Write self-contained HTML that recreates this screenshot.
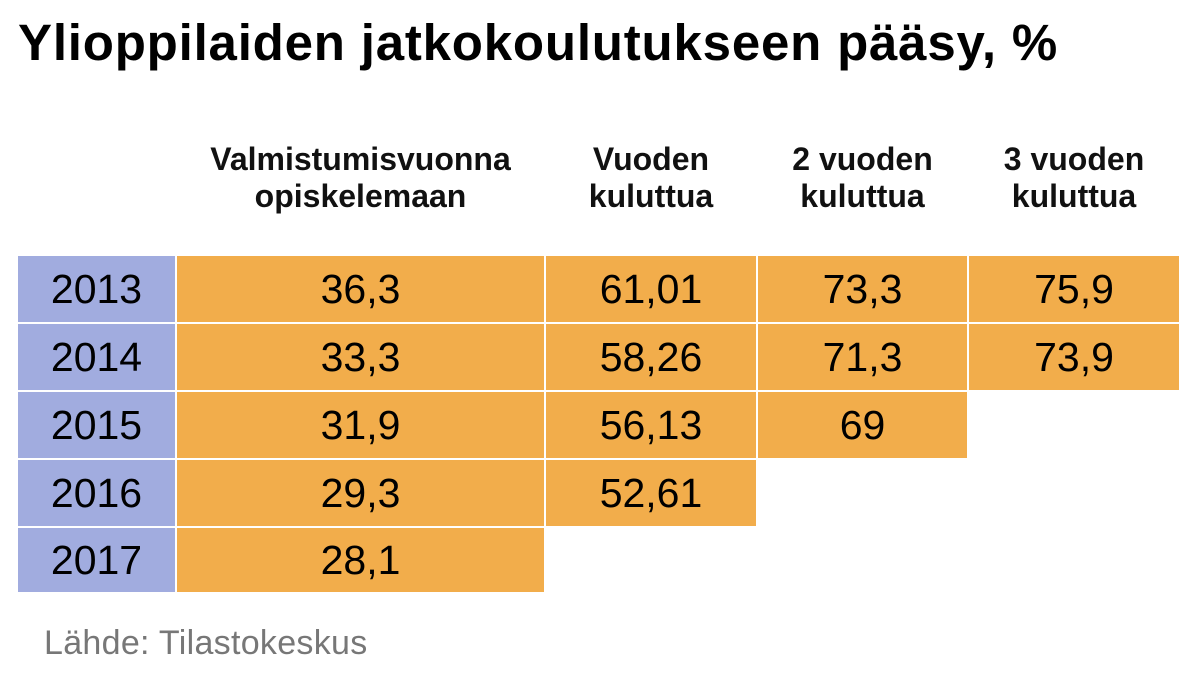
<!DOCTYPE html>
<html><head><meta charset="utf-8"><style>
body{margin:0;width:1198px;height:680px;background:#fff;font-family:"Liberation Sans",sans-serif;position:relative;overflow:hidden}
.t{position:absolute;left:18px;top:13px;font-size:51px;font-weight:bold;color:#000;letter-spacing:0.8px;white-space:nowrap}
.h{position:absolute;text-align:center;font-size:32px;font-weight:bold;line-height:37px;color:#111;top:141px;white-space:nowrap}
.c{position:absolute;display:flex;align-items:center;justify-content:center;font-size:41px;color:#000}
.src{position:absolute;left:44px;top:624px;font-size:34px;color:#777;letter-spacing:0.3px}
</style></head><body>
<div class="t">Ylioppilaiden jatkokoulutukseen pääsy, %</div>
<div id="tbl"></div>
<div class="src">Lähde: Tilastokeskus</div>
<script>
const years=["2013","2014","2015","2016","2017"];
const headers=["Valmistumisvuonna<br>opiskelemaan","Vuoden<br>kuluttua","2 vuoden<br>kuluttua","3 vuoden<br>kuluttua"];
const col0=["36,3","33,3","31,9","29,3","28,1"];
const col1=["61,01","58,26","56,13","52,61"];
const col2=["73,3","71,3","69"];
const col3=["75,9","73,9"];
const cols=[col0,col1,col2,col3];
const colX=[18,177,546,758,969,1181];
const rowY=[256,324,392,460,528,594];
const tbl=document.getElementById('tbl');
headers.forEach((h,i)=>{
  const d=document.createElement('div');d.className='h';
  
  
  d.style.left=colX[i+1]+'px';d.style.width=(colX[i+2]-colX[i+1]-2)+'px';
  d.innerHTML=h;tbl.appendChild(d);
});
years.forEach((y,r)=>{
  const d=document.createElement('div');d.className='c';
  
  
  d.style.cssText=`left:${colX[0]}px;top:${rowY[r]}px;width:${colX[1]-colX[0]-2}px;height:${rowY[r+1]-rowY[r]-2}px;background:#a1acdf`;
  d.textContent=y;tbl.appendChild(d);
});
cols.forEach((col,c)=>{
  col.forEach((v,r)=>{
    const d=document.createElement('div');d.className='c';
    
    
    d.style.cssText=`left:${colX[c+1]}px;top:${rowY[r]}px;width:${colX[c+2]-colX[c+1]-2}px;height:${rowY[r+1]-rowY[r]-2}px;background:#f2ad4b`;
    d.textContent=v;tbl.appendChild(d);
  });
});
</script>
</body></html>
